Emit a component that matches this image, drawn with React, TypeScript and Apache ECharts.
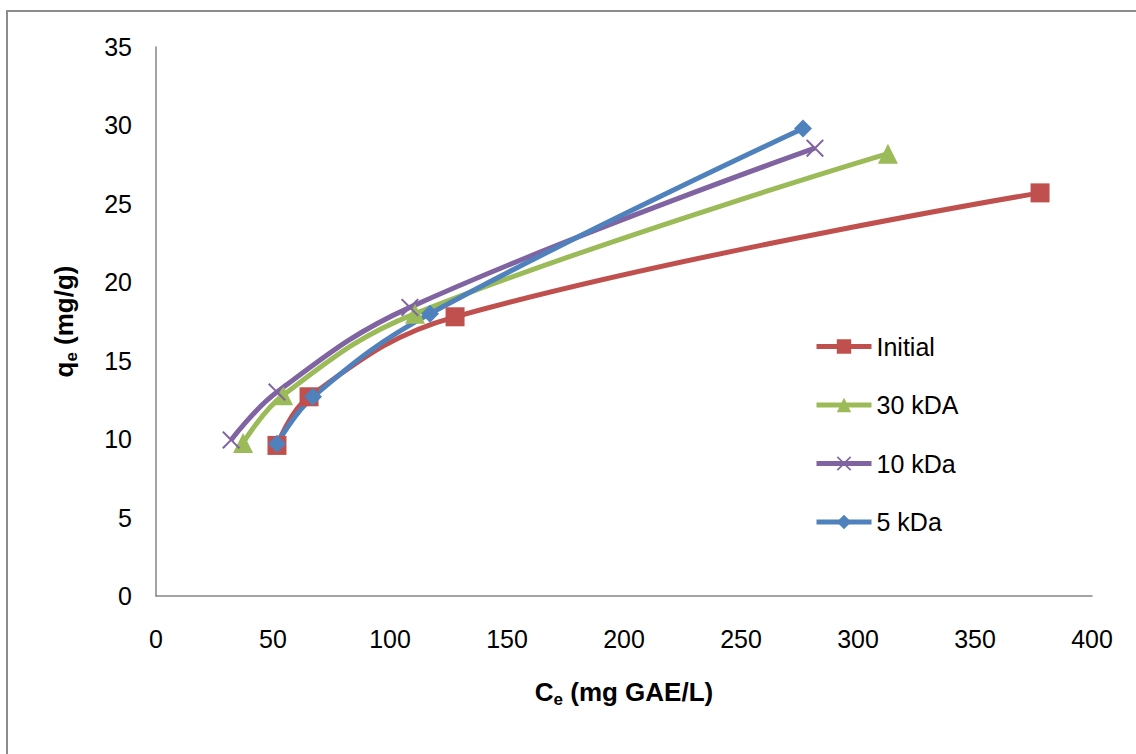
import React, { useEffect, useRef } from "react";
import * as echarts from "echarts";

const seriesNames = ["Initial", "30 kDA", "10 kDa", "5 kDa"];
const initialData: [number, number][] = [
  [51.7, 9.6],
  [65.4, 12.7],
  [127.8, 17.8],
  [377.8, 25.7],
];
const kda30Data: [number, number][] = [
  [37.2, 9.75],
  [54.3, 12.8],
  [110.7, 18.0],
  [312.8, 28.2],
];
const kda10Data: [number, number][] = [
  [32.1, 9.95],
  [51.7, 13.0],
  [108.5, 18.4],
  [281.6, 28.55],
];
const kda5Data: [number, number][] = [
  [51.7, 9.7],
  [67.1, 12.7],
  [117.1, 18.0],
  [276.5, 29.8],
];
const colors = ["#C0504D", "#9BBB59", "#8064A2", "#4F81BD"];
const symbols = [
  "rect",
  "triangle",
  "path://M0,0.8L0.8,0L5,4.2L9.2,0L10,0.8L5.8,5L10,9.2L9.2,10L5,5.8L0.8,10L0,9.2L4.2,5Z",
  "diamond",
];
const symbolSizes = [19, 20, 18, 18];

const FONT = "'Liberation Sans', Arial, sans-serif";

export default function App() {
  const ref = useRef<HTMLDivElement>(null);
  useEffect(() => {
    if (!ref.current) return;
    const chart = echarts.init(ref.current, null, { renderer: "svg" });
    const datasets = [initialData, kda30Data, kda10Data, kda5Data];
    chart.setOption({
      animation: false,
      backgroundColor: "#ffffff",
      textStyle: { fontFamily: FONT },
      graphic: [
        {
          type: "rect",
          shape: { x: 7, y: 11, width: 1300, height: 900 },
          style: { fill: "none", stroke: "#8c8c8c", lineWidth: 2 },
          silent: true,
        },
      ],
      grid: { left: 156, top: 47, right: 44, bottom: 158, containLabel: false },
      legend: {
        orient: "vertical",
        left: 814,
        top: 334,
        padding: 0,
        itemWidth: 55,
        itemHeight: 18,
        itemGap: 33.5,
        lineStyle: { width: 5 },
        textStyle: { fontSize: 25, color: "#000", fontFamily: FONT },
        data: seriesNames,
      },
      xAxis: {
        type: "value",
        min: 0,
        max: 400,
        interval: 50,
        name: "{b|C}{s|e}{b| (mg GAE/L)}",
        nameLocation: "middle",
        nameGap: 80,
        nameTextStyle: {
          rich: {
            b: { fontSize: 26, fontWeight: "bold", color: "#000", fontFamily: FONT },
            s: { fontSize: 17, fontWeight: "bold", color: "#000", fontFamily: FONT, padding: [15, 0, 0, 0] },
          },
        },
        axisLine: { show: true, lineStyle: { color: "#868686", width: 1.5 } },
        axisTick: { show: false },
        splitLine: { show: false },
        axisLabel: { fontSize: 25, color: "#000", margin: 30, fontFamily: FONT },
      },
      yAxis: {
        type: "value",
        min: 0,
        max: 35,
        interval: 5,
        name: "{b|q}{s|e}{b| (mg/g)}",
        nameLocation: "middle",
        nameGap: 76,
        nameTextStyle: {
          rich: {
            b: { fontSize: 26, fontWeight: "bold", color: "#000", fontFamily: FONT },
            s: { fontSize: 17, fontWeight: "bold", color: "#000", fontFamily: FONT, padding: [15, 0, 0, 0] },
          },
        },
        axisLine: { show: true, lineStyle: { color: "#868686", width: 1.5 } },
        axisTick: { show: false },
        splitLine: { show: false },
        axisLabel: { fontSize: 25, color: "#000", margin: 24, fontFamily: FONT },
      },
      series: seriesNames.map((name, i) => ({
        name,
        type: "line",
        data: datasets[i],
        smooth: 0.4,
        symbol: symbols[i],
        symbolSize: symbolSizes[i],
        showAllSymbol: true,
        lineStyle: { color: colors[i], width: 5 },
        itemStyle: { color: colors[i] },
        emphasis: { disabled: true },
      })),
    });
    return () => chart.dispose();
  }, []);
  return (
    <div
      ref={ref}
      style={{ position: "fixed", left: 0, top: 0, width: 1136, height: 754 }}
    />
  );
}
